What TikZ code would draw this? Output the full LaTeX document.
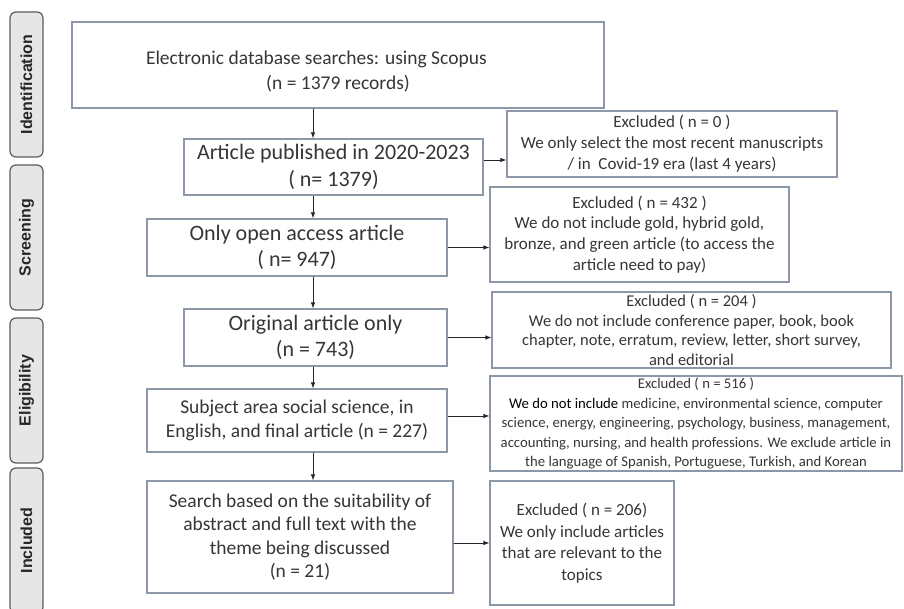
\documentclass[tikz,border=0pt]{standalone}
\usepackage{fontspec}
\setmainfont{Carlito}
\newfontfamily\stagefont{Liberation Sans}
\usetikzlibrary{arrows.meta,positioning}

\definecolor{boxline}{HTML}{8C97A8}
\definecolor{boxtext}{HTML}{363636}
\definecolor{stagefill}{HTML}{E6E6E6}
\definecolor{stageline}{HTML}{5C5C5C}

\begin{document}
\begin{tikzpicture}[x=1pt,y=-1pt,>={Latex[length=6pt,width=4.5pt]},
    box/.style={draw=boxline, line width=1.1pt, fill=white, text=boxtext,
                align=center, inner sep=0pt},
    stage/.style={draw=stageline, fill=stagefill, line width=1.2pt,
                  rounded corners=6pt, rotate=90, minimum width=145pt,
                  minimum height=33pt, inner sep=0pt, text=black!85,
                  font=\stagefont\bfseries\fontsize{16}{19}\selectfont}]
  \useasboundingbox (0,0) rectangle (904,609);

  % phases down the left side
  \node[stage] (ident)  at (26.5,84.5)  {Identification};
  \node[stage] (screen) at (26.5,237.5) {Screening};
  \node[stage] (elig)   at (26.5,390.5) {Eligibility};
  \node[stage] (incl)   at (26.5,540.5) {Included};

  % main column
  \node[box, minimum width=532pt, minimum height=86pt] (b1) at (338,65) {};
  \node[text=boxtext, align=center, inner sep=0pt,
        font=\fontsize{19.5}{25}\selectfont] (b1text) at (338,72)
        {\makebox[384pt][l]{Electronic database searches: using Scopus}\\(n = 1379 records)};
  \node[box, minimum width=299pt, minimum height=56pt,
        font=\fontsize{22}{27}\selectfont] (b2) at (333.5,167)
        {Article published in 2020-2023\\( n= 1379)};
  \node[box, minimum width=300pt, minimum height=57pt,
        font=\fontsize{22}{26}\selectfont] (b3) at (297,247.5)
        {Only open access article\\( n= 947)};
  \node[box, minimum width=263pt, minimum height=57pt,
        font=\fontsize{22}{26}\selectfont] (b4) at (315.5,337.5)
        {Original article only\\(n = 743)};
  \node[box, minimum width=300pt, minimum height=63pt,
        font=\fontsize{19.5}{23.3}\selectfont] (b5) at (297,420.5)
        {Subject area social science, in\\English, and final article (n = 227)};
  \node[box, minimum width=306pt, minimum height=112pt,
        font=\fontsize{19.5}{23.5}\selectfont] (b6) at (300,537)
        {Search based on the suitability of\\abstract and full text with the\\theme being discussed\\(n = 21)};

  % excluded records
  \node[box, minimum width=330pt, minimum height=66pt,
        font=\fontsize{17}{21}\selectfont] (e1) at (672,144)
        {Excluded ( n = 0 )\\We only select the most recent manuscripts\\/ in\ \ Covid-19 era (last 4 years)};
  \node[box, minimum width=299pt, minimum height=95pt,
        font=\fontsize{17}{20.7}\selectfont] (e2) at (639.5,234.5)
        {Excluded ( n = 432 )\\We do not include gold, hybrid gold,\\bronze, and green article (to access the\\article need to pay)};
  \node[box, minimum width=399pt, minimum height=76pt,
        font=\fontsize{16.5}{19.5}\selectfont] (e3) at (691.5,330)
        {Excluded ( n = 204 )\\We do not include conference paper, book, book\\chapter, note, erratum, review, letter, short survey,\\and editorial};
  \node[box, minimum width=412pt, minimum height=95pt,
        font=\fontsize{14.7}{19.5}\selectfont] (e4) at (696,423.5)
        {Excluded ( n = 516 )\\{\color{black}We do not include} medicine, environmental science, computer\\science, energy, engineering, psychology, business, management,\\accounting, nursing, and health professions. We exclude article in\\the language of Spanish, Portuguese, Turkish, and Korean};
  \node[box, minimum width=184pt, minimum height=124pt,
        font=\fontsize{17}{21.5}\selectfont] (e5) at (582,543)
        {Excluded ( n = 206)\\We only include articles\\that are relevant to the\\topics};

  % where the side arrows leave the main column
  \coordinate (spine) at (313,0);
  \coordinate (o2) at ([yshift=7pt]b2.east);
  \coordinate (o5) at ([yshift=4.5pt]b5.east);
  \coordinate (o6) at ([yshift=-6pt]b6.east);

  \path[->, black!85, line width=0.9pt]
    (b1.south -| spine) edge (b2.north -| spine)
    (b2.south -| spine) edge (b3.north -| spine)
    (b3.south -| spine) edge (b4.north -| spine)
    (b4.south -| spine) edge (b5.north -| spine)
    (b5.south -| spine) edge (b6.north -| spine)

    (o2) edge (o2 -| e1.west)
    (b3.east) edge (b3.east -| e2.west)
    (b4.east) edge (b4.east -| e3.west)
    (o5) edge (o5 -| e4.west)
    (o6) edge (o6 -| e5.west)
    ;
\end{tikzpicture}
\end{document}
